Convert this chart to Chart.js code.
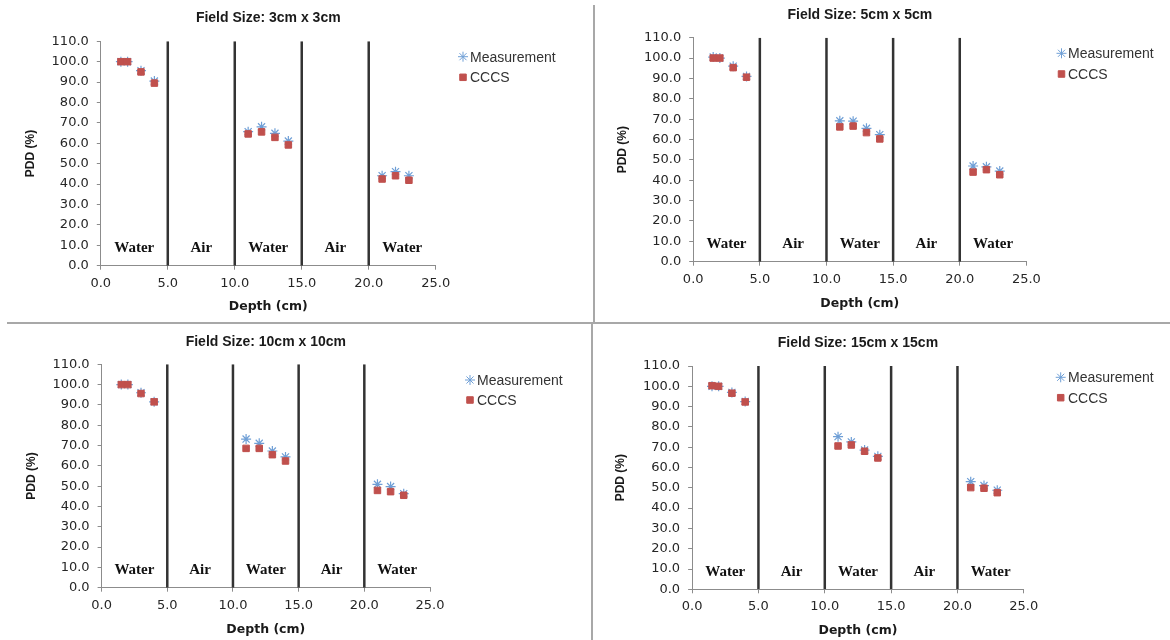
<!DOCTYPE html>
<html>
<head>
<meta charset="utf-8">
<script src="https://cdn.jsdelivr.net/npm/chart.js@4.4.0/dist/chart.umd.min.js"></script>
<style>
    html, body { margin: 0; padding: 0; background: #fff; }
    body { width: 1170px; height: 640px; position: relative; overflow: hidden; }
    canvas { position: absolute; }
    .sep { position: absolute; background: #a8a8a8; }
</style>
</head>
<body>
<canvas id="c1" width="592" height="322" style="left:0;top:0"></canvas>
<canvas id="c2" width="574" height="322" style="left:596px;top:0"></canvas>
<canvas id="c3" width="591" height="315" style="left:0;top:325px"></canvas>
<canvas id="c4" width="575" height="314" style="left:595px;top:326px"></canvas>

<!-- panel separators -->
<div class="sep" style="left:593px;top:5px;width:2px;height:318px"></div>
<div class="sep" style="left:7px;top:322px;width:1163px;height:2px"></div>
<div class="sep" style="left:591px;top:323px;width:2px;height:317px"></div>

<script>
// depth of each measured point (cm)
const depths = [1.5, 2, 3, 4, 11, 12, 13, 14, 21, 22, 23];

// PDD (%) per field size
const meas3  = [100, 100, 95.6, 90.5, 65.7, 68.1, 64.9, 61.1, 44.1, 46.1, 44.1];
const cccs3  = [100, 100, 95.0, 89.5, 64.6, 65.6, 62.9, 59.2, 42.5, 44.1, 41.9];
const meas5  = [100.5, 100, 96.0, 91.0, 69.2, 69.0, 65.5, 62.4, 47.0, 46.6, 44.5];
const cccs5  = [100, 100, 95.3, 90.6, 66.2, 66.6, 63.4, 60.3, 44.0, 45.2, 42.7];
const meas10 = [100, 100, 96.0, 91.5, 73.2, 71.1, 67.3, 64.4, 50.9, 49.8, 46.3];
const cccs10 = [100, 100, 95.6, 91.5, 68.6, 68.6, 65.5, 62.4, 47.9, 47.3, 45.5];
const meas15 = [100, 100, 97.0, 92.5, 75.2, 72.6, 68.6, 65.5, 53.0, 51.1, 48.8];
const cccs15 = [100.3, 100, 96.6, 92.3, 70.6, 71.1, 68.0, 64.7, 50.1, 49.8, 47.6];

// phantom layers
const layerEdges = [0, 5, 10, 15, 20, 25];
const layerNames = ['Water', 'Air', 'Water', 'Air', 'Water'];

const seriesNames = ['Measurement', 'CCCS'];
const panelTitles = ['Field Size: 3cm x 3cm', 'Field Size: 5cm x 5cm', 'Field Size: 10cm x 10cm', 'Field Size: 15cm x 15cm'];

const yTicksMax = 110;
const xTicksMax = 25;

// where things sit inside each canvas
const layouts = [
    { w: 592, h: 322, left: 100.8, right: 435.7, top: 41.3, bottom: 265.7, titleY: 18.3, legX: 463, legTextX: 470, legY: [56.7, 77.3], yTitleX: 30.5, xTitleY: 306.7 },
    { w: 574, h: 322, left: 97.2, right: 430.4, top: 37.7, bottom: 261.7, titleY: 15, legX: 465.5, legTextX: 472, legY: [53.3, 74], yTitleX: 26.3, xTitleY: 303.3 },
    { w: 591, h: 315, left: 101.6, right: 430, top: 39.3, bottom: 262.7, titleY: 16.7, legX: 470, legTextX: 477, legY: [55, 75], yTitleX: 32, xTitleY: 304.3 },
    { w: 575, h: 314, left: 97.1, right: 428.8, top: 40, bottom: 263.3, titleY: 16.7, legX: 465.7, legTextX: 473, legY: [51.3, 71.7], yTitleX: 25.4, xTitleY: 304.7 }
];

const labelY = 8.7;

const decorPlugin = {
    id: 'decor',
    afterDraw(chart, args, opts) {
        const ctx = chart.ctx;
        const L = opts.layout;
        const xs = chart.scales.x, ys = chart.scales.y;
        const area = chart.chartArea;
        ctx.save();

        // title, centred over the plot
        ctx.fillStyle = '#1a1a1a';
        ctx.font = 'bold 14px "Liberation Sans"';
        ctx.textAlign = 'center';
        ctx.textBaseline = 'middle';
        ctx.fillText(opts.title, (area.left + area.right) / 2, L.titleY);

        // layer labels
        ctx.font = 'bold 15px "Liberation Serif"';
        ctx.fillStyle = '#111';
        for (let i = 0; i < layerNames.length; i++) {
            const mid = (layerEdges[i] + layerEdges[i + 1]) / 2;
            ctx.fillText(layerNames[i], xs.getPixelForValue(mid), ys.getPixelForValue(labelY));
        }

        // legend
        ctx.font = '14px "Liberation Sans"';
        ctx.textAlign = 'left';
        [0, 1].forEach(i => {
            const ds = chart.data.datasets[i];
            ctx.strokeStyle = ds.borderColor;
            ctx.fillStyle = ds.backgroundColor;
            Chart.helpers.drawPoint(ctx, { pointStyle: ds.pointStyle, radius: ds.pointRadius, borderWidth: ds.borderWidth, rotation: 0 }, L.legX, L.legY[i]);
            ctx.fillStyle = '#333';
            ctx.fillText(ds.label, L.legTextX, L.legY[i] + 1);
        });
        ctx.restore();
    }
};

function buildPanel(canvasId, title, meas, cccs, L) {
    const yTitleSize = 12, xTitleSize = 12.5;
    const padLeft = L.yTitleX - yTitleSize * 1.2 / 2;
    const yW = L.left - padLeft;
    const xBottom = L.xTitleY + xTitleSize * 1.2 / 2;
    const xH = xBottom - L.bottom;

    const boundaries = layerEdges.slice(1, -1).map(e => ({
        label: 'edge',
        data: [{ x: e, y: 0 }, { x: e, y: yTicksMax }],
        showLine: true,
        borderColor: '#333',
        borderWidth: 2.5,
        pointRadius: 0,
        order: 3
    }));

    new Chart(document.getElementById(canvasId), {
        type: 'scatter',
        data: {
            datasets: [
                {
                    label: seriesNames[0],
                    data: depths.map((d, i) => ({ x: d, y: meas[i] })),
                    pointStyle: 'star',
                    pointRadius: 5,
                    borderWidth: 1.2,
                    borderColor: '#6f9fd6',
                    backgroundColor: '#6f9fd6',
                    order: 2
                },
                {
                    label: seriesNames[1],
                    data: depths.map((d, i) => ({ x: d, y: cccs[i] })),
                    pointStyle: 'rect',
                    pointRadius: 4.6,
                    borderWidth: 1,
                    borderColor: '#c0504d',
                    backgroundColor: '#c0504d',
                    order: 1
                },
                ...boundaries
            ]
        },
        options: {
            responsive: false,
            animation: false,
            events: [],
            layout: { padding: { left: padLeft, top: L.top, right: L.w - L.right, bottom: L.h - xBottom } },
            plugins: {
                legend: { display: false },
                tooltip: { enabled: false },
                decor: { layout: L, title: title }
            },
            scales: {
                x: {
                    type: 'linear',
                    min: 0, max: xTicksMax,
                    afterFit: s => { s.height = xH; },
                    grid: { drawOnChartArea: false, drawTicks: true, tickLength: 4, color: '#8c8c8c' },
                    border: { display: true, color: '#8c8c8c', width: 1 },
                    ticks: {
                        stepSize: 5, padding: 6, color: '#262626',
                        font: { family: '"DejaVu Sans"', size: 13 },
                        callback: v => v.toFixed(1)
                    },
                    title: {
                        display: true, text: 'Depth (cm)', color: '#1a1a1a',
                        padding: 0,
                        font: { family: '"DejaVu Sans"', size: xTitleSize, weight: 'bold' }
                    }
                },
                y: {
                    min: 0, max: yTicksMax,
                    afterFit: s => { s.width = yW; },
                    grid: { drawOnChartArea: false, drawTicks: true, tickLength: 4, color: '#8c8c8c' },
                    border: { display: true, color: '#8c8c8c', width: 1 },
                    ticks: {
                        stepSize: 10, padding: 8, color: '#262626',
                        font: { family: '"DejaVu Sans"', size: 13 },
                        callback: v => v.toFixed(1)
                    },
                    title: {
                        display: true, text: 'PDD (%)', color: '#1a1a1a',
                        padding: 0,
                        font: { family: '"Liberation Sans"', size: yTitleSize, weight: 'bold' }
                    }
                }
            }
        },
        plugins: [decorPlugin]
    });
}

buildPanel('c1', panelTitles[0], meas3, cccs3, layouts[0]);
buildPanel('c2', panelTitles[1], meas5, cccs5, layouts[1]);
buildPanel('c3', panelTitles[2], meas10, cccs10, layouts[2]);
buildPanel('c4', panelTitles[3], meas15, cccs15, layouts[3]);
</script>
</body>
</html>
